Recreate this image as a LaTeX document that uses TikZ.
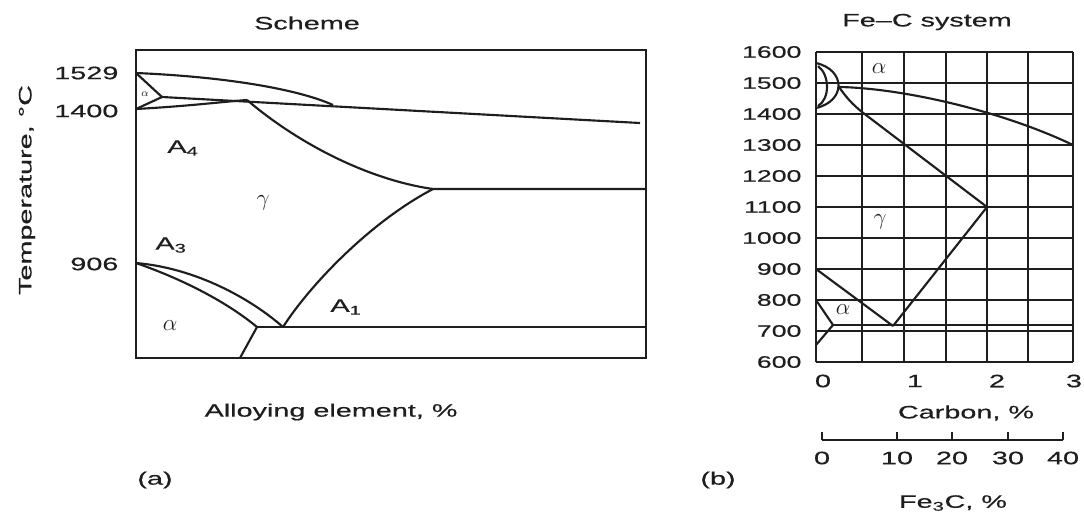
\documentclass[tikz,border=0pt]{standalone}
\usepackage{fontspec}
\setmainfont{Liberation Sans}[FakeStretch=1.6, FakeBold=0.5]
\usepackage{tikz}
\definecolor{inkgray}{RGB}{30, 30, 30}

\begin{document}
\begin{tikzpicture}[x=0.75pt, y=-0.75pt,
    frame/.style={line width=1.1pt, inkgray},
    phase/.style={line width=1.6pt, inkgray, line join=round},
    gridln/.style={line width=1.2pt, inkgray},
    lbl/.style={font=\fontsize{13.5}{15}\selectfont, inner sep=1pt, inkgray},
    tick/.style={font=\fontsize{12.5}{14}\selectfont, inner sep=1pt, inkgray},
    grk/.style={font=\fontsize{17}{19}\selectfont, inner sep=1pt, inkgray}]

\useasboundingbox (0,0) rectangle (1084,515);

%% ── LEFT: scheme of an alloyed iron ─────────────────────────────────────────
\node[lbl] (ttlA) at (307,23) {Scheme};
\draw[frame] (136,50) rectangle (646,358);

% temperature marks on the axis
\node[lbl, anchor=east] (t1529) at (120,73) {1529};
\node[lbl, anchor=east] (t1400) at (120,111) {1400};
\node[lbl, anchor=east] (t906) at (120,264) {906};
\node[lbl, rotate=90] (ylabA) at (27,190) {Temperature, \textdegree C};

% delta loop at the top
\draw[phase] (136,73) .. controls (230,77) and (300,90) .. (333,105);
\draw[phase] (136,73) -- (162,97) -- (136,109);
\draw[phase] (162,97) -- (640,123);
\draw[phase] (136,109) .. controls (190,106) and (220,102) .. (247,100);

% gamma field boundaries
\draw[phase] (247,100) .. controls (300,145) and (370,180) .. (433,189) -- (646,189);
\draw[phase] (433,189) .. controls (370,222) and (310,285) .. (283,327);

% A3 band and eutectoid line
\draw[phase] (136,263) .. controls (195,268) and (250,298) .. (283,327);
\draw[phase] (136,263) .. controls (185,280) and (228,303) .. (257,327);
\draw[phase] (257,327) -- (646,327);
\draw[phase] (257,327) -- (240,358);

\node[font=\footnotesize, inkgray] (aD) at (145,94) {$\alpha$};
\node[lbl] (lA4) at (183,148) {A\textsubscript{4}};
\node[grk] (lgA) at (263,203) {$\gamma$};
\node[lbl] (lA3) at (171,245) {A\textsubscript{3}};
\node[grk] (laA) at (170,326) {$\alpha$};
\node[lbl] (lA1) at (346,307) {A\textsubscript{1}};

\node[lbl, anchor=west] (xlabA) at (203,412) {Alloying element, \%};
\node[lbl] (capA) at (155,480) {(a)};

%% ── RIGHT: Fe--C system ─────────────────────────────────────────────────────
\node[lbl] (ttlB) at (927,22) {Fe--C system};

% grid (100 K and 0.5 % steps)
\foreach \t [count=\i from 0] in {1600,1500,1400,1300,1200,1100,1000,900,800,700,600} {
  \draw[gridln] (816,{52+31*\i}) -- (1073,{52+31*\i});
  \node[tick, anchor=east] (ty\t) at (803,{52+31*\i}) {\t};
}
\foreach \gx in {816,946,987,1028,1073}
  \draw[gridln] (\gx,52) -- (\gx,362);
\draw[gridln, line width=1.8pt] (862,52) -- (862,362);
\draw[gridln, line width=1.6pt] (904,52) -- (904,362);

% delta region
\draw[phase] (816,63) .. controls (846,70) and (846,101) .. (816,108);
\draw[phase] (818,66) .. controls (830,75) and (830,99) .. (818,106);

% liquidus and gamma field
\draw[phase] (839,87) .. controls (900,88) and (1000,110) .. (1073,145);
\draw[phase] (839,87) .. controls (846,97) and (852,104) .. (862,112) -- (987,207);
\draw[phase] (987,207) -- (893,326);
\draw[phase] (816,269) -- (893,326);

% alpha region and eutectoid line
\draw[phase] (816,300) -- (833,325) -- (816,345);
\draw[phase] (833,325) -- (1073,325);

\node[grk] (laB) at (879,69) {$\alpha$};
\node[grk] (lgB) at (880,222) {$\gamma$};
\node[grk] (laC) at (843,310) {$\alpha$};

% carbon scale
\foreach \c/\cx in {0/823,1/915,2/997,3/1074}
  \node[lbl] (tc\c) at (\cx,381) {\c};
\node[lbl] (xlabB) at (966,413) {Carbon, \%};

% cementite scale
\coordinate (fe0) at (822,440);
\coordinate (fe40) at (1063,440);
\draw[frame] (fe0) -- (fe40);
\foreach \f/\fx in {0/822,10/897,20/952,30/1008,40/1063} {
  \draw[frame] (\fx,440) -- (\fx,432);
  \node[lbl] (tf\f) at (\fx,458) {\f};
}
\node[lbl] (xlabC) at (953,503) {Fe\textsubscript{3}C, \%};
\node[lbl] (capB) at (718,480) {(b)};

\end{tikzpicture}
\end{document}
